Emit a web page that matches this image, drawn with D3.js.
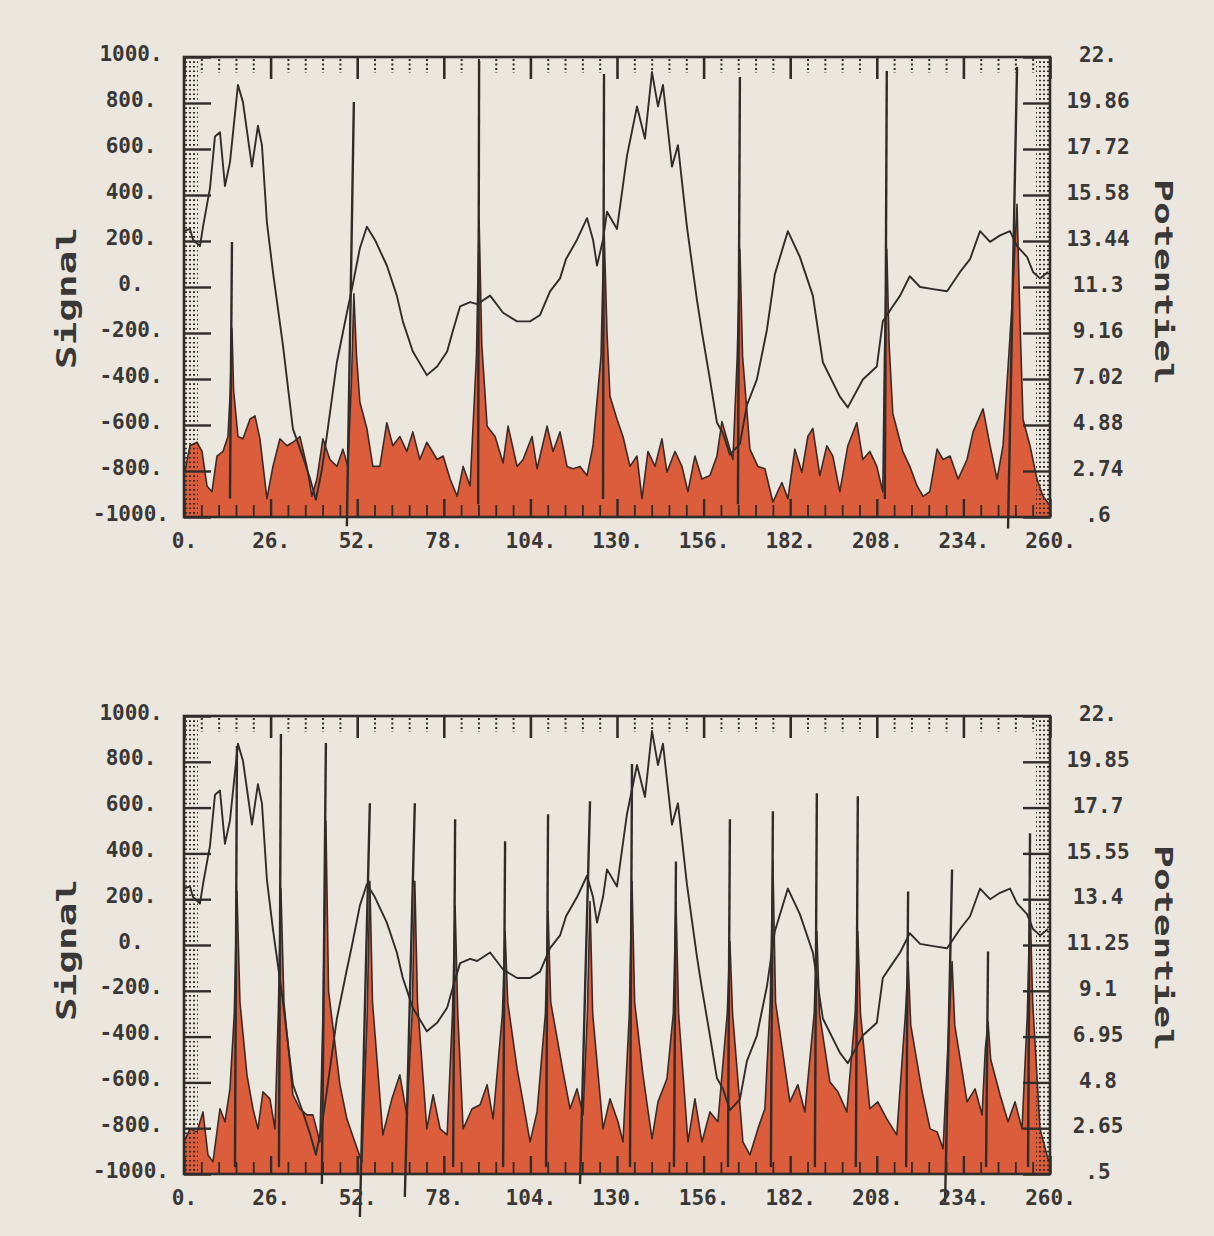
<!DOCTYPE html>
<html>
<head>
<meta charset="utf-8">
<script src="https://cdn.jsdelivr.net/npm/d3@7"></script>
<style>
  html, body { margin: 0; padding: 0; background: #ebe7df; }
  svg { display: block; }
  text { font-family: "DejaVu Sans Mono", monospace; font-weight: bold; fill: #3a3836; }
  .tick-label text { font-size: 21px; }
  .axis-title { font-size: 26px; }
</style>
</head>
<body>
<svg id="chart" width="1214" height="1236"></svg>
<script>
// ---- axis ticks and labels ----
const X_TICKS = [0, 26, 52, 78, 104, 130, 156, 182, 208, 234, 260];
const X_LABELS = ["0.", "26.", "52.", "78.", "104.", "130.", "156.", "182.", "208.", "234.", "260."];
const SIGNAL_TICKS = [1000, 800, 600, 400, 200, 0, -200, -400, -600, -800, -1000];
const SIGNAL_LABELS = ["1000.", "800.", "600.", "400.", "200.", "0.", "-200.", "-400.", "-600.", "-800.", "-1000."];
const POT_LABELS_TOP = ["22.", "19.86", "17.72", "15.58", "13.44", "11.3", "9.16", "7.02", "4.88", "2.74", ".6"];
const POT_LABELS_BOTTOM = ["22.", "19.85", "17.7", "15.55", "13.4", "11.25", "9.1", "6.95", "4.8", "2.65", ".5"];

// ---- Potentiel trace [t, potentiel] (same record on both sheets) ----
const POTENTIEL = [
  [0,13.9],[1.8,14.0],[2.7,13.5],[4.8,13.2],[5.7,14.1],[7.8,15.9],[9.3,18.3],[10.8,18.5],[12.3,16.0],[13.8,17.1],
  [16.2,20.7],[17.7,19.9],[20.4,16.9],[22.2,18.8],[23.4,17.9],[24.9,14.3],[26.7,12.0],[29.7,8.6],[32.7,4.7],[35.7,3.4],
  [37.8,2.4],[39.6,1.4],[41.4,2.8],[42.9,4.4],[45.9,7.8],[48.9,10.1],[50.4,11.2],[52.8,13.1],[54.9,14.1],[57.3,13.5],
  [60.9,12.3],[63.9,10.9],[65.7,9.7],[68.7,8.3],[72.9,7.2],[76.0,7.6],[79.0,8.3],[80.8,9.3],[82.9,10.4],[85.9,10.6],
  [88.0,10.5],[91.9,10.9],[95.8,10.1],[100.0,9.7],[103.9,9.7],[106.9,10.0],[109.9,11.1],[112.9,11.7],[114.7,12.6],[118.0,13.5],
  [121.0,14.5],[122.8,13.5],[124.0,12.3],[125.8,13.5],[127.0,14.8],[130.0,14.0],[133.0,17.4],[136.0,19.7],[138.4,18.2],[140.5,21.3],
  [142.3,19.7],[143.8,20.7],[146.5,16.9],[148.3,17.9],[151.0,14.1],[154.0,10.7],[155.5,9.2],[157.9,7.0],[160.0,5.0],[161.8,4.5],
  [163.9,3.5],[166.9,4.0],[169.0,5.8],[172.0,7.0],[175.0,9.3],[177.4,11.9],[181.3,13.9],[184.9,12.7],[188.8,10.9],[191.8,7.8],
  [196.9,6.2],[199.3,5.7],[203.8,7.0],[208.0,7.6],[209.8,9.7],[212.8,10.4],[215.0,10.9],[217.9,11.8],[221.0,11.3],[224.9,11.2],
  [229.1,11.1],[233.0,12.0],[236.0,12.6],[239.0,13.9],[242.0,13.4],[245.0,13.7],[248.0,13.9],[250.1,13.2],[253.1,12.7],[254.9,12.0],
  [257.0,11.7],[259.4,12.0]
];

// ---- Signal traces [t, signal] ----
const SIGNAL_TOP = [
  [0,-820],[1.8,-690],[3.9,-675],[5.4,-715],[6.9,-865],[8.4,-890],[9.9,-735],[11.7,-715],[13.2,-650],[13.9,-450],
  [14.4,-180],[14.9,-450],[16.2,-650],[17.7,-660],[19.8,-575],[21.3,-560],[22.8,-660],[24.9,-920],[26.7,-780],[28.8,-660],
  [30.9,-690],[32.7,-675],[34.8,-650],[36.9,-780],[38.4,-910],[39.9,-835],[41.7,-660],[43.8,-750],[45.9,-780],[47.7,-705],
  [49.2,-780],[50.3,-400],[51,-30],[51.8,-300],[52.8,-500],[54.9,-615],[56.7,-780],[58.8,-780],[60.9,-590],[62.7,-690],
  [64.8,-650],[66.9,-715],[68.7,-630],[70.8,-750],[72.9,-675],[76,-750],[77.8,-735],[79.9,-835],[82,-910],[83.8,-780],
  [85.9,-865],[87.8,-300],[88.6,295],[89.4,-250],[91,-605],[93.4,-650],[95.8,-765],[97.3,-605],[100,-780],[101.8,-750],
  [104.5,-650],[106,-790],[109,-605],[110.8,-715],[112.9,-630],[115,-780],[116.8,-790],[118.9,-780],[121,-820],[122.8,-690],
  [125.2,-300],[126.1,260],[127,-200],[127.9,-475],[130,-575],[131.8,-650],[133.9,-780],[136,-735],[137.5,-920],[139.3,-715],
  [141.4,-780],[143.5,-660],[145,-805],[147.4,-715],[149.5,-780],[151.3,-890],[153.4,-735],[155.5,-835],[157.9,-820],[160,-735],
  [161.5,-585],[163,-660],[164.8,-750],[166.1,-300],[166.9,165],[167.7,-300],[169.9,-705],[172.3,-780],[174.4,-790],[176.8,-935],
  [179.5,-850],[181.3,-920],[183.4,-705],[185.5,-805],[187.3,-650],[188.8,-615],[190.9,-820],[193,-690],[194.8,-735],[196.9,-890],
  [199.3,-690],[202,-590],[203.8,-750],[205.9,-715],[208,-780],[209.8,-890],[210.3,-300],[211,165],[211.7,-250],[212.8,-550],
  [215.8,-715],[217.9,-780],[220.1,-865],[221.9,-910],[223.9,-890],[226.1,-705],[227.9,-750],[230,-735],[232.4,-835],[235.1,-750],
  [236.9,-630],[239.9,-530],[242,-690],[244.1,-835],[245.9,-690],[248.5,-100],[250.1,360],[251,-150],[251.9,-575],[254,-690],
  [256.1,-835],[257.9,-910],[260,-950]
];

const SIGNAL_BOTTOM = [
  [0,-860],[1.8,-803],[3.9,-816],[5.7,-729],[7.2,-917],[8.7,-947],[10.8,-715],[12.3,-772],[13.8,-628],[15.1,-300],
  [15.9,234],[16.8,-250],[18.9,-567],[20.7,-715],[22.2,-803],[23.7,-641],[25.8,-672],[27.3,-803],[28.3,-300],[29.1,247],
  [30,-250],[32.7,-654],[34.8,-715],[36.9,-742],[38.7,-742],[40.8,-860],[41.8,-250],[42.6,541],[43.4,-200],[46.8,-610],
  [48.9,-759],[51.3,-860],[53.4,-947],[55,-300],[55.8,278],[56.6,-250],[59.7,-829],[62.4,-672],[64.8,-567],[66.9,-742],
  [68.5,-300],[69.3,278],[70.1,-250],[72.9,-803],[74.8,-654],[76.9,-803],[79,-829],[80.6,-300],[81.4,169],[82.2,-300],
  [83.8,-803],[86.5,-715],[88.9,-698],[91,-610],[92.8,-759],[95.6,-300],[96.4,59],[97.2,-250],[100,-540],[101.8,-685],
  [103.9,-860],[106,-729],[108.5,-300],[109.3,147],[110.1,-250],[113.8,-553],[115.9,-715],[118,-628],[119.8,-742],[121.1,-300],
  [121.9,190],[122.7,-300],[125.8,-803],[127.9,-672],[130.3,-772],[131.8,-860],[133.7,-300],[134.5,278],[135.3,-250],[137.8,-567],
  [140.5,-847],[142.3,-685],[145,-584],[146.9,-300],[147.7,190],[148.5,-300],[151.3,-860],[153.4,-672],[155.5,-860],[157.9,-729],
  [160.3,-772],[163.1,-300],[163.9,15],[164.7,-300],[167.8,-860],[169.9,-917],[172.3,-803],[174.4,-715],[176,-250],[176.8,365],
  [177.6,-250],[181.9,-685],[184.3,-610],[186.4,-729],[189.2,-300],[190,59],[190.8,-300],[193.9,-597],[196.3,-641],[199,-729],
  [201.5,-300],[202.3,59],[203.1,-300],[205.9,-715],[208.3,-685],[211,-759],[214,-829],[216.6,-300],[217.4,-72],[218.2,-350],
  [221.6,-641],[224,-803],[226.1,-816],[227.9,-890],[229.8,-300],[230.6,-72],[231.4,-350],[235.1,-685],[237.5,-628],[239.6,-742],
  [240.6,-450],[241.4,-335],[242.2,-500],[245,-654],[247.4,-772],[249.5,-685],[251.6,-803],[253.2,-300],[254,190],[254.8,-250],
  [257,-803],[259.4,-934],[260,-950]
];

// ---- Stimulus pulses [t start, signal start, t end, signal end] ----
const PULSES_TOP = [
  [13.8,-920,14.4,196],[48.9,-1040,51,804],[88.3,-945,88.6,983],[125.8,-922,126.1,926],
  [166.3,-945,166.9,913],[210.4,-922,211,939],[247.4,-1050,250.1,957]
];
const PULSES_BOTTOM = [
  [15.3,-970,15.9,869],[28.5,-970,29.1,921],[41.4,-1044,42.6,882],[52.8,-1188,55.8,619],[66.3,-1100,69.3,619],
  [80.8,-970,81.4,549],[95.8,-970,96.4,453],[108.7,-970,109.3,571],[118.9,-1044,121.9,628],[133.9,-970,134.5,790],
  [147.1,-970,147.7,365],[163.3,-970,163.9,549],[176.2,-970,176.8,584],[189.4,-970,190,663],[201.7,-970,202.3,650],
  [216.8,-970,217.4,234],[228.5,-1122,230.6,330],[240.8,-970,241.4,-28],[253.4,-970,254,488]
];

// ---- drawing ----
const RED = "#d9522f";
const INK = "#2f2c2a";
const X0 = 184, X1 = 1050;
const svg = d3.select("#chart");

const sheets = [
  { top: 57, bottom: 517, potMin: 0.6, potLabels: POT_LABELS_TOP, signal: SIGNAL_TOP, pulses: PULSES_TOP, sigTitleY: 298, potTitleY: 282 },
  { top: 716, bottom: 1174, potMin: 0.5, potLabels: POT_LABELS_BOTTOM, signal: SIGNAL_BOTTOM, pulses: PULSES_BOTTOM, sigTitleY: 950, potTitleY: 948 }
];

function tickAxis(g, axis, transform, opts) {
  const a = g.append("g").attr("transform", transform).style("color", INK).call(axis);
  a.select(".domain").remove();
  a.selectAll(".tick line")
    .attr("stroke-width", opts.width)
    .attr("stroke-dasharray", opts.dash || null);
  return a;
}

sheets.forEach(p => {
  const g = svg.append("g");
  const x = d3.scaleLinear().domain([0, 260]).range([X0, X1]);
  const ys = d3.scaleLinear().domain([-1000, 1000]).range([p.bottom, p.top]);
  const yp = d3.scaleLinear().domain([p.potMin, 22]).range([p.bottom, p.top]);

  // filled signal with its pen outline
  g.append("path").datum(p.signal)
    .attr("d", d3.area().x(d => x(d[0])).y0(ys(-1000)).y1(d => ys(d[1])))
    .attr("fill", RED).attr("fill-opacity", 0.93);
  g.append("path").datum(p.signal)
    .attr("d", d3.line().x(d => x(d[0])).y(d => ys(d[1])))
    .attr("fill", "none").attr("stroke", "#3a2b27").attr("stroke-width", 1.6)
    .attr("stroke-linejoin", "round");

  // potentiel trace
  g.append("path").datum(POTENTIEL)
    .attr("d", d3.line().x(d => x(d[0])).y(d => yp(d[1])))
    .attr("fill", "none").attr("stroke", INK).attr("stroke-width", 1.9)
    .attr("stroke-linejoin", "round");

  // pulses
  g.selectAll("line.pulse").data(p.pulses).join("line").attr("class", "pulse")
    .attr("x1", d => x(d[0])).attr("y1", d => ys(d[1]))
    .attr("x2", d => x(d[2])).attr("y2", d => ys(d[3]))
    .attr("stroke", INK).attr("stroke-width", 2.4);

  // tick marks (inside the frame)
  const xMinor = d3.range(0, 260.01, 5.2).filter(v => Math.abs(v / 26 - Math.round(v / 26)) > 1e-6);
  const sMinor = d3.range(-1000, 1000, 20).filter(v => v % 200 !== 0);
  const potVals = p.potLabels.map(Number);
  const potStep = (22 - p.potMin) / 100;
  const pMinor = d3.range(0, 101).filter(i => i % 10 !== 0).map(i => p.potMin + i * potStep);

  tickAxis(g, d3.axisTop(x).tickValues(X_TICKS).tickSizeInner(-22).tickFormat(""), `translate(0,${p.top})`, { width: 2.6 });
  tickAxis(g, d3.axisTop(x).tickValues(xMinor).tickSizeInner(-14).tickFormat(""), `translate(0,${p.top + 2})`, { width: 2, dash: "2,2.5" });
  tickAxis(g, d3.axisBottom(x).tickValues(X_TICKS).tickSizeInner(-18).tickFormat(""), `translate(0,${p.bottom})`, { width: 2.4 });
  tickAxis(g, d3.axisBottom(x).tickValues(xMinor).tickSizeInner(-12).tickFormat(""), `translate(0,${p.bottom})`, { width: 1.8 });
  tickAxis(g, d3.axisLeft(ys).tickValues(SIGNAL_TICKS).tickSizeInner(-27).tickFormat(""), `translate(${X0},0)`, { width: 2.4 });
  tickAxis(g, d3.axisLeft(ys).tickValues(sMinor).tickSizeInner(-13).tickFormat(""), `translate(${X0 + 1},0)`, { width: 1.6, dash: "2,2" });
  tickAxis(g, d3.axisRight(yp).tickValues(potVals).tickSizeInner(-27).tickFormat(""), `translate(${X1},0)`, { width: 2.4 });
  tickAxis(g, d3.axisRight(yp).tickValues(pMinor).tickSizeInner(-13).tickFormat(""), `translate(${X1 - 1},0)`, { width: 1.6, dash: "2,2" });

  // frame
  g.append("rect").attr("x", X0).attr("y", p.top)
    .attr("width", X1 - X0).attr("height", p.bottom - p.top)
    .attr("fill", "none").attr("stroke", INK).attr("stroke-width", 2.6);

  // tick labels
  const xl = g.append("g").attr("class", "tick-label").attr("transform", `translate(0,${p.bottom})`)
    .call(d3.axisBottom(x).tickValues(X_TICKS).tickSize(0).tickPadding(16).tickFormat((d, i) => X_LABELS[i]));
  xl.select(".domain").remove();

  const sl = g.append("g").attr("class", "tick-label").attr("transform", `translate(${X0},0)`)
    .call(d3.axisLeft(ys).tickValues(SIGNAL_TICKS).tickSize(0).tickFormat((d, i) => SIGNAL_LABELS[i]));
  sl.select(".domain").remove();
  sl.selectAll("text").attr("x", -53).attr("text-anchor", "middle").attr("dy", "0.15em");

  const pl = g.append("g").attr("class", "tick-label").attr("transform", `translate(${X1},0)`)
    .call(d3.axisRight(yp).tickValues(potVals).tickSize(0).tickFormat((d, i) => p.potLabels[i]));
  pl.select(".domain").remove();
  pl.selectAll("text").attr("x", 48).attr("text-anchor", "middle").attr("dy", "0.22em");

  // axis titles
  g.append("text").attr("class", "axis-title")
    .attr("transform", `translate(76,${p.sigTitleY}) rotate(-90)`)
    .attr("text-anchor", "middle")
    .attr("textLength", 142).attr("lengthAdjust", "spacingAndGlyphs")
    .text("Signal");
  g.append("text").attr("class", "axis-title")
    .attr("transform", `translate(1155,${p.potTitleY}) rotate(90)`)
    .attr("text-anchor", "middle").style("font-size", "24px")
    .attr("textLength", 206).attr("lengthAdjust", "spacingAndGlyphs")
    .text("Potentiel");
});
</script>
</body>
</html>
